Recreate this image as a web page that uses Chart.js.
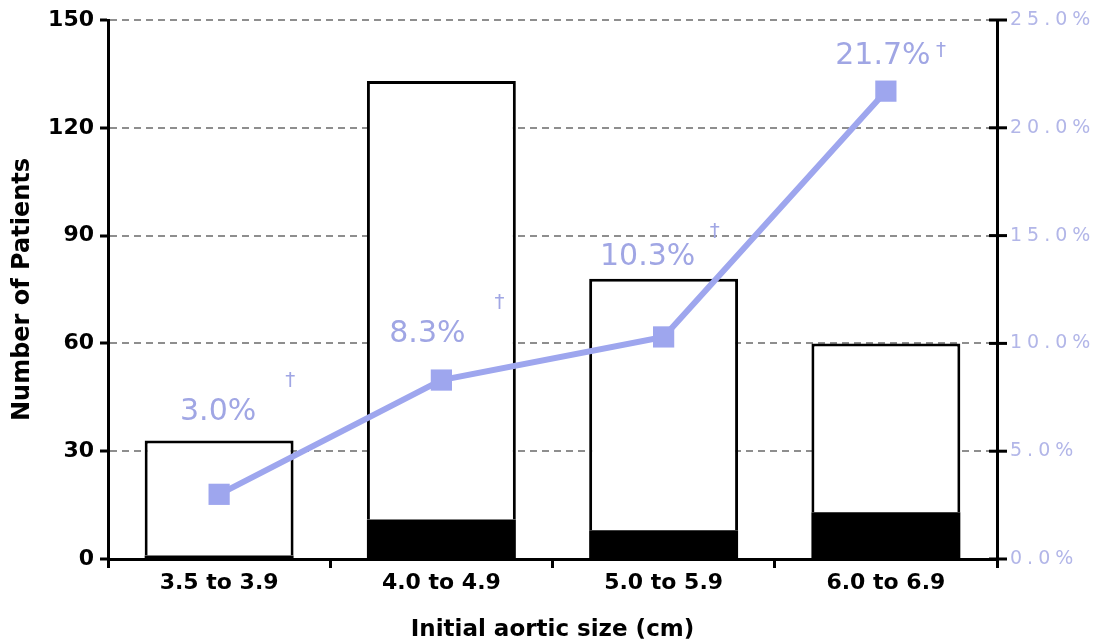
<!DOCTYPE html>
<html>
<head>
<meta charset="utf-8">
<script src="https://cdn.jsdelivr.net/npm/chart.js@4.4.1/dist/chart.umd.min.js"></script>
<style>
  html, body { margin: 0; padding: 0; background: #fff; }
  #wrap { width: 1106px; height: 644px; }
</style>
</head>
<body>
<div id="wrap"><canvas id="c" width="1106" height="644"></canvas></div>
<script>
const categories = ['3.5 to 3.9', '4.0 to 4.9', '5.0 to 5.9', '6.0 to 6.9'];
const totalPatients = [33, 133, 78, 60];
const eventPatients = [1, 11, 8, 13];
const eventRate = [3.0, 8.3, 10.3, 21.7];
const rateLabels = ['3.0%', '8.3%', '10.3%', '21.7%'];
const leftTicks = [0, 30, 60, 90, 120, 150];
const rightTicks = [0, 5, 10, 15, 20, 25];

const remainder = totalPatients.map((t, i) => t - eventPatients[i]);

const PURPLE = 'rgb(158,166,238)';
const LABEL_PURPLE = 'rgb(160,166,228)';
const TICK_PURPLE = 'rgb(178,182,232)';

// pixel offsets for annotation text (style only)
const labelOffsets = [[-1, -82], [-14, -46], [-16, -80], [-3, -35]];
const daggerOffsets = [[71, -114], [58, -77], [51, -105], [55, -40]];

const annot = {
  id: 'annot',
  afterDraw(chart) {
    const ctx = chart.ctx;
    const ca = chart.chartArea;
    const y1 = chart.scales.y1;
    ctx.save();
    ctx.strokeStyle = '#000';
    ctx.lineWidth = 3;
    rightTicks.forEach(v => {
      const py = y1.getPixelForValue(v);
      ctx.beginPath();
      ctx.moveTo(ca.right - 8, py);
      ctx.lineTo(ca.right + 10, py);
      ctx.stroke();
    });
    ctx.fillStyle = TICK_PURPLE;
    ctx.font = '19px "DejaVu Sans"';
    ctx.textBaseline = 'middle';
    ctx.textAlign = 'left';
    try { ctx.letterSpacing = '5px'; } catch (e) {}
    rightTicks.forEach(v => {
      const py = y1.getPixelForValue(v);
      ctx.fillText(v.toFixed(1) + '%', ca.right + 13, py);
    });
    try { ctx.letterSpacing = '0px'; } catch (e) {}
    const meta = chart.getDatasetMeta(2);
    ctx.textAlign = 'center';
    ctx.textBaseline = 'middle';
    meta.data.forEach((pt, i) => {
      ctx.fillStyle = LABEL_PURPLE;
      ctx.font = '30px "DejaVu Sans"';
      ctx.fillText(rateLabels[i], pt.x + labelOffsets[i][0], pt.y + labelOffsets[i][1]);
      ctx.font = '20px "DejaVu Sans"';
      ctx.fillText('\u2020', pt.x + daggerOffsets[i][0], pt.y + daggerOffsets[i][1]);
    });
    ctx.restore();
  }
};

new Chart(document.getElementById('c'), {
  data: {
    labels: categories,
    datasets: [
      {
        type: 'bar',
        label: 'Events',
        data: eventPatients,
        backgroundColor: '#000',
        borderWidth: 0,
        yAxisID: 'y',
        order: 2,
        barPercentage: 0.67,
        categoryPercentage: 1.0
      },
      {
        type: 'bar',
        label: 'Patients',
        data: remainder,
        backgroundColor: '#fff',
        borderColor: '#000',
        borderWidth: 3,
        borderSkipped: 'bottom',
        yAxisID: 'y',
        order: 2,
        barPercentage: 0.67,
        categoryPercentage: 1.0
      },
      {
        type: 'line',
        label: 'Rate',
        data: eventRate,
        yAxisID: 'y1',
        borderColor: PURPLE,
        backgroundColor: PURPLE,
        borderWidth: 6,
        pointStyle: 'rect',
        pointRadius: 15,
        pointBorderWidth: 0,
        pointBackgroundColor: PURPLE,
        tension: 0,
        order: 0
      }
    ]
  },
  options: {
    responsive: false,
    animation: false,
    events: [],
    layout: { padding: { top: 20, left: 0, right: 0, bottom: 0 } },
    plugins: { legend: { display: false }, tooltip: { enabled: false } },
    scales: {
      x: {
        stacked: true,
        grid: { display: true, drawOnChartArea: false, color: '#000', lineWidth: 3, tickLength: 9, offset: true },
        border: { display: true, color: '#000', width: 3 },
        ticks: { color: '#000', font: { family: 'DejaVu Sans', weight: 'bold', size: 22 }, padding: 2 },
        title: { display: true, text: 'Initial aortic size (cm)', color: '#000', font: { family: 'DejaVu Sans', weight: 'bold', size: 23 }, padding: { top: 4, bottom: 0 } },
        afterFit(s) { s.height = 85; }
      },
      y: {
        stacked: true,
        position: 'left',
        min: 0, max: 150,
        afterBuildTicks(s) { s.ticks = leftTicks.map(v => ({ value: v })); },
        grid: {
          color: (c) => c.tick && c.tick.value === 0 ? 'rgba(0,0,0,0)' : '#8e8e8e',
          lineWidth: 2,
          tickColor: '#000',
          tickWidth: 3,
          tickLength: 8,
          tickBorderDash: []
        },
        border: { display: true, color: '#000', width: 3, dash: [7, 5] },
        ticks: { color: '#000', font: { family: 'DejaVu Sans', weight: 'bold', size: 22 }, padding: 6 },
        title: { display: true, text: 'Number of Patients', color: '#000', font: { family: 'DejaVu Sans', weight: 'bold', size: 24 }, padding: { top: 8, bottom: 4 } },
        afterFit(s) { s.width = 108; }
      },
      y1: {
        position: 'right',
        stacked: false,
        min: 0, max: 25,
        afterBuildTicks(s) { s.ticks = rightTicks.map(v => ({ value: v })); },
        grid: { drawOnChartArea: false, display: false },
        border: { display: true, color: '#000', width: 3 },
        ticks: { display: false },
        afterFit(s) { s.width = 109; }
      }
    }
  },
  plugins: [annot]
});
</script>
</body>
</html>
